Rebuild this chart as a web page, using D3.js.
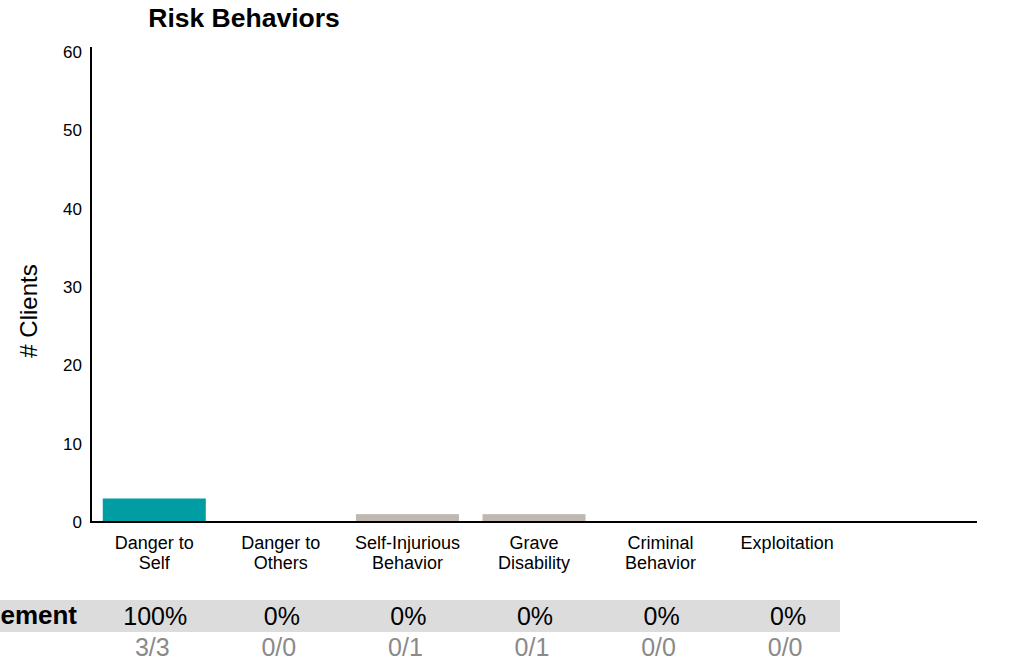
<!DOCTYPE html>
<html>
<head>
<meta charset="utf-8">
<script src="https://cdn.jsdelivr.net/npm/d3@7"></script>
<style>
  html, body { margin: 0; padding: 0; background: #fff; }
  svg { display: block; font-family: "Liberation Sans", Arial, sans-serif; }
</style>
</head>
<body>
<svg id="chart" width="1015" height="670"></svg>
<script>
// ---- Data ----
const categories = ["Danger to Self", "Danger to Others", "Self-Injurious Behavior", "Grave Disability", "Criminal Behavior", "Exploitation"];
const categoryLines = [["Danger to", "Self"], ["Danger to", "Others"], ["Self-Injurious", "Behavior"], ["Grave", "Disability"], ["Criminal", "Behavior"], ["Exploitation"]];
const clients = [3, 0, 1, 1, 0, 0];
const highlighted = [true, false, false, false, false, false];
const percentLabels = ["100%", "0%", "0%", "0%", "0%", "0%"];
const fractionLabels = ["3/3", "0/0", "0/1", "0/1", "0/0", "0/0"];
const yTicks = [0, 10, 20, 30, 40, 50, 60];
const tableRowLabel = "Engagement";
const chartTitle = "Risk Behaviors";
const yAxisLabel = "# Clients";

// ---- Layout ----
const svg = d3.select("#chart");
const mLeft = 91, mRight = 977, mTop = 52, mBottom = 522;
const slots = categories.concat(["__spare"]);

const x = d3.scaleBand().domain(slots).range([mLeft, mRight]).paddingInner(0.186).paddingOuter(0.093);
const y = d3.scaleLinear().domain([0, 60]).range([mBottom, mTop]);

// Title
svg.append("text")
  .attr("x", 244).attr("y", 27)
  .attr("text-anchor", "middle")
  .attr("font-size", 26.5).attr("font-weight", "bold")
  .attr("fill", "#000")
  .text(chartTitle);

// Y axis label
svg.append("text")
  .attr("transform", "translate(37,311) rotate(-90)")
  .attr("text-anchor", "middle")
  .attr("font-size", 24)
  .attr("fill", "#000")
  .text(yAxisLabel);

// Bars
svg.append("g").selectAll("rect")
  .data(categories)
  .join("rect")
  .attr("x", d => x(d))
  .attr("width", x.bandwidth())
  .attr("y", (d, i) => y(clients[i]))
  .attr("height", (d, i) => y(0) - y(clients[i]))
  .attr("fill", (d, i) => highlighted[i] ? "#009ea3" : "#bfb8b2");

// Y axis (line + tick labels, no tick marks)
const yAxis = d3.axisLeft(y).tickValues(yTicks).tickSize(0).tickPadding(9);
const yg = svg.append("g").attr("transform", `translate(${mLeft},0)`).call(yAxis);
yg.select(".domain").remove();
yg.selectAll("text").attr("font-size", 17).attr("font-family", "Liberation Sans, Arial, sans-serif").attr("fill", "#000");
svg.append("line")
  .attr("x1", mLeft).attr("x2", mLeft)
  .attr("y1", mTop - 5).attr("y2", mBottom + 1)
  .attr("stroke", "#000").attr("stroke-width", 2);

// X axis line
svg.append("line")
  .attr("x1", mLeft - 1).attr("x2", mRight)
  .attr("y1", mBottom).attr("y2", mBottom)
  .attr("stroke", "#000").attr("stroke-width", 2);

// Category labels
const catG = svg.append("g").selectAll("text")
  .data(categories)
  .join("text")
  .attr("text-anchor", "middle")
  .attr("font-size", 18)
  .attr("fill", "#000")
  .attr("transform", d => `translate(${x(d) + x.bandwidth() / 2},${mBottom + 27})`);
catG.selectAll("tspan")
  .data((d, i) => categoryLines[i])
  .join("tspan")
  .attr("x", 0)
  .attr("y", (d, j) => j * 20)
  .text(d => d);

// Table band
svg.append("rect")
  .attr("x", 0).attr("y", 600)
  .attr("width", 840).attr("height", 32)
  .attr("fill", "#dcdcdc");

svg.append("text")
  .attr("x", 77).attr("y", 624)
  .attr("text-anchor", "end")
  .attr("font-size", 26).attr("font-weight", "bold")
  .attr("fill", "#000")
  .text(tableRowLabel);

svg.append("g").selectAll("text")
  .data(categories)
  .join("text")
  .attr("x", d => x(d) + x.bandwidth() / 2 + 1)
  .attr("y", 625)
  .attr("text-anchor", "middle")
  .attr("font-size", 25)
  .attr("fill", "#000")
  .text((d, i) => percentLabels[i]);

svg.append("g").selectAll("text")
  .data(categories)
  .join("text")
  .attr("x", d => x(d) + x.bandwidth() / 2 - 2)
  .attr("y", 656)
  .attr("text-anchor", "middle")
  .attr("font-size", 25)
  .attr("fill", "#8a8a8a")
  .text((d, i) => fractionLabels[i]);
</script>
</body>
</html>
